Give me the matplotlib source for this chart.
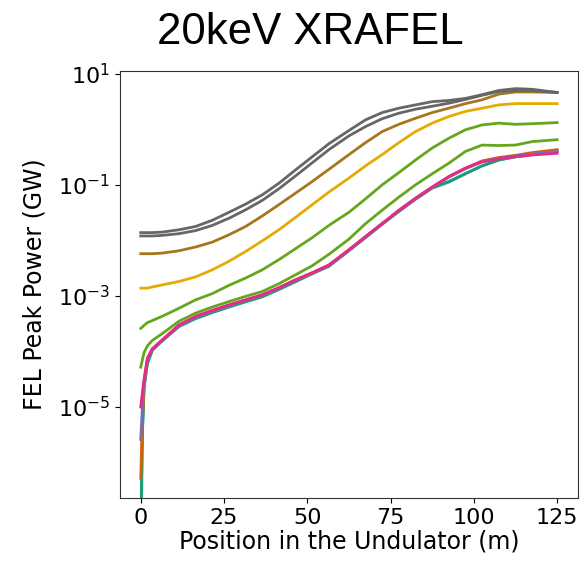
import numpy as np
import matplotlib.pyplot as plt

# position along the undulator (m), shared by every run
z = [0, 0.5, 1, 2, 3.5, 6.5, 11.5, 16.5, 21.5, 26.5, 31.5, 36.5, 41.5, 46.5,
     51.5, 56.5, 62.5, 67.5, 72.5, 77.5, 82.5, 87.5, 92.5, 97.5, 102.5,
     107.5, 112.5, 117.5, 125]

# peak power (GW) per run
teal_a = [1e-8, 3.2e-6, 2.2e-5, 6.0e-5, 1.05e-4, 1.55e-4, 2.8e-4, 3.9e-4,
          5.0e-4, 6.3e-4, 7.8e-4, 9.6e-4, 1.3e-3, 1.8e-3, 2.5e-3, 3.4e-3,
          6.5e-3, 1.12e-2, 1.95e-2, 3.3e-2, 5.5e-2, 8.7e-2, 1.12e-1,
          1.58e-1, 2.2e-1, 2.8e-1, 3.2e-1, 3.5e-1, 4.0e-1]
teal_b = [6e-8, 3.5e-6, 2.3e-5, 6.2e-5, 1.08e-4, 1.58e-4, 2.9e-4, 4.0e-4,
          5.2e-4, 6.5e-4, 8.1e-4, 1.0e-3, 1.35e-3, 1.9e-3, 2.6e-3, 3.5e-3,
          6.6e-3, 1.15e-2, 2.0e-2, 3.4e-2, 5.6e-2, 9.0e-2, 1.15e-1,
          1.6e-1, 2.2e-1, 2.8e-1, 3.2e-1, 3.5e-1, 4.0e-1]
orange = [5.2e-7, 5.0e-6, 2.5e-5, 7.1e-5, 1.1e-4, 1.6e-4, 3.0e-4, 4.2e-4,
          5.4e-4, 6.8e-4, 8.4e-4, 1.04e-3, 1.4e-3, 1.95e-3, 2.6e-3, 3.6e-3,
          6.7e-3, 1.17e-2, 2.0e-2, 3.4e-2, 5.7e-2, 9.1e-2, 1.4e-1, 2.0e-1,
          2.7e-1, 3.1e-1, 3.4e-1, 3.8e-1, 4.3e-1]
purple = [2.6e-6, 1.0e-5, 2.8e-5, 7.1e-5, 1.1e-4, 1.6e-4, 2.9e-4, 4.1e-4,
          5.3e-4, 6.6e-4, 8.3e-4, 1.02e-3, 1.38e-3, 1.9e-3, 2.55e-3, 3.5e-3,
          6.6e-3, 1.15e-2, 2.0e-2, 3.4e-2, 5.6e-2, 9.0e-2, 1.38e-1, 1.95e-1,
          2.6e-1, 3.0e-1, 3.3e-1, 3.6e-1, 4.0e-1]
pink = [1.0e-5, 1.8e-5, 3.2e-5, 7.6e-5, 1.12e-4, 1.62e-4, 3.0e-4, 4.3e-4,
        5.5e-4, 6.9e-4, 8.5e-4, 1.05e-3, 1.41e-3, 1.95e-3, 2.6e-3, 3.6e-3,
        6.8e-3, 1.17e-2, 2.0e-2, 3.5e-2, 5.75e-2, 9.1e-2, 1.41e-1, 2.0e-1,
        2.6e-1, 2.95e-1, 3.2e-1, 3.45e-1, 3.7e-1]
green_lo = [5.2e-5, 7.1e-5, 9.5e-5, 1.26e-4, 1.58e-4, 2.1e-4, 3.5e-4, 4.9e-4,
            6.3e-4, 7.9e-4, 9.8e-4, 1.2e-3, 1.66e-3, 2.4e-3, 3.5e-3, 5.6e-3,
            1.05e-2, 2.0e-2, 3.5e-2, 6.0e-2, 1.0e-1, 1.58e-1, 2.45e-1,
            4.0e-1, 5.2e-1, 5.1e-1, 5.2e-1, 6.0e-1, 6.5e-1]
green_hi = [2.6e-4, 2.75e-4, 2.95e-4, 3.3e-4, 3.6e-4, 4.3e-4, 6.0e-4, 8.5e-4,
            1.1e-3, 1.55e-3, 2.1e-3, 2.95e-3, 4.5e-3, 7.1e-3, 1.12e-2,
            1.86e-2, 3.2e-2, 5.6e-2, 1.0e-1, 1.66e-1, 2.8e-1, 4.6e-1, 6.9e-1,
            9.8e-1, 1.2, 1.29, 1.23, 1.26, 1.32]
yellow = [1.38e-3, 1.38e-3, 1.38e-3, 1.38e-3, 1.45e-3, 1.58e-3, 1.82e-3,
          2.2e-3, 2.95e-3, 4.2e-3, 6.3e-3, 9.8e-3, 1.55e-2, 2.6e-2, 4.4e-2,
          7.4e-2, 1.32e-1, 2.2e-1, 3.5e-1, 5.75e-1, 9.1e-1, 1.29, 1.7, 2.1,
          2.4, 2.75, 2.9, 2.9, 2.9]
brown = [5.75e-3, 5.75e-3, 5.75e-3, 5.75e-3, 5.75e-3, 5.9e-3, 6.5e-3,
         7.6e-3, 9.3e-3, 1.26e-2, 1.78e-2, 2.75e-2, 4.4e-2, 7.1e-2, 1.15e-1,
         1.9e-1, 3.5e-1, 5.75e-1, 9.1e-1, 1.23, 1.58, 2.0, 2.4, 2.9, 3.4,
         4.3, 4.7, 4.7, 4.6]
gray_lo = [1.2e-2, 1.2e-2, 1.2e-2, 1.2e-2, 1.2e-2, 1.23e-2, 1.32e-2, 1.5e-2,
           1.86e-2, 2.5e-2, 3.55e-2, 5.25e-2, 8.5e-2, 1.45e-1, 2.5e-1,
           4.3e-1, 7.6e-1, 1.12, 1.55, 1.95, 2.3, 2.6, 2.95, 3.45, 4.1, 4.8,
           5.0, 5.0, 4.6]
gray_hi = [1.38e-2, 1.38e-2, 1.38e-2, 1.38e-2, 1.38e-2, 1.41e-2, 1.55e-2,
           1.78e-2, 2.3e-2, 3.2e-2, 4.5e-2, 6.6e-2, 1.07e-1, 1.86e-1, 3.2e-1,
           5.5e-1, 9.5e-1, 1.48, 2.0, 2.4, 2.75, 3.15, 3.3, 3.6, 4.2, 5.0,
           5.4, 5.25, 4.6]

runs = [teal_a, teal_b, orange, purple, pink, green_lo, green_hi,
        yellow, brown, gray_lo, gray_hi]
colors = plt.cm.Dark2(np.linspace(0, 1, len(runs)))

fig = plt.figure(figsize=(5.82, 5.62), dpi=100)
ax = fig.add_axes([0.206, 0.114, 0.787, 0.760])

for p, c in zip(runs, colors):
    ax.plot(z, p, color=c, lw=2)

ax.set_yscale('log')
ax.set_ylim(2.3e-7, 11.3)
ax.set_xlim(-6.25, 131.25)
ax.set_xticks([0, 25, 50, 75, 100, 125])
ax.set_yticks([1e-5, 1e-3, 1e-1, 1e1])
ax.yaxis.set_minor_locator(plt.NullLocator())
ax.tick_params(labelsize=16)
ax.set_xlabel('Position in the Undulator (m)', fontsize=17, labelpad=1)
ax.set_ylabel('FEL Peak Power (GW)', fontsize=17, labelpad=8)
for s in ax.spines.values():
    s.set_color('#333333')

fig.text(0.533, 0.921, '20keV XRAFEL', ha='center', va='baseline',
         fontsize=31.5, family='Liberation Sans')

fig.savefig('out.png', dpi=100)
